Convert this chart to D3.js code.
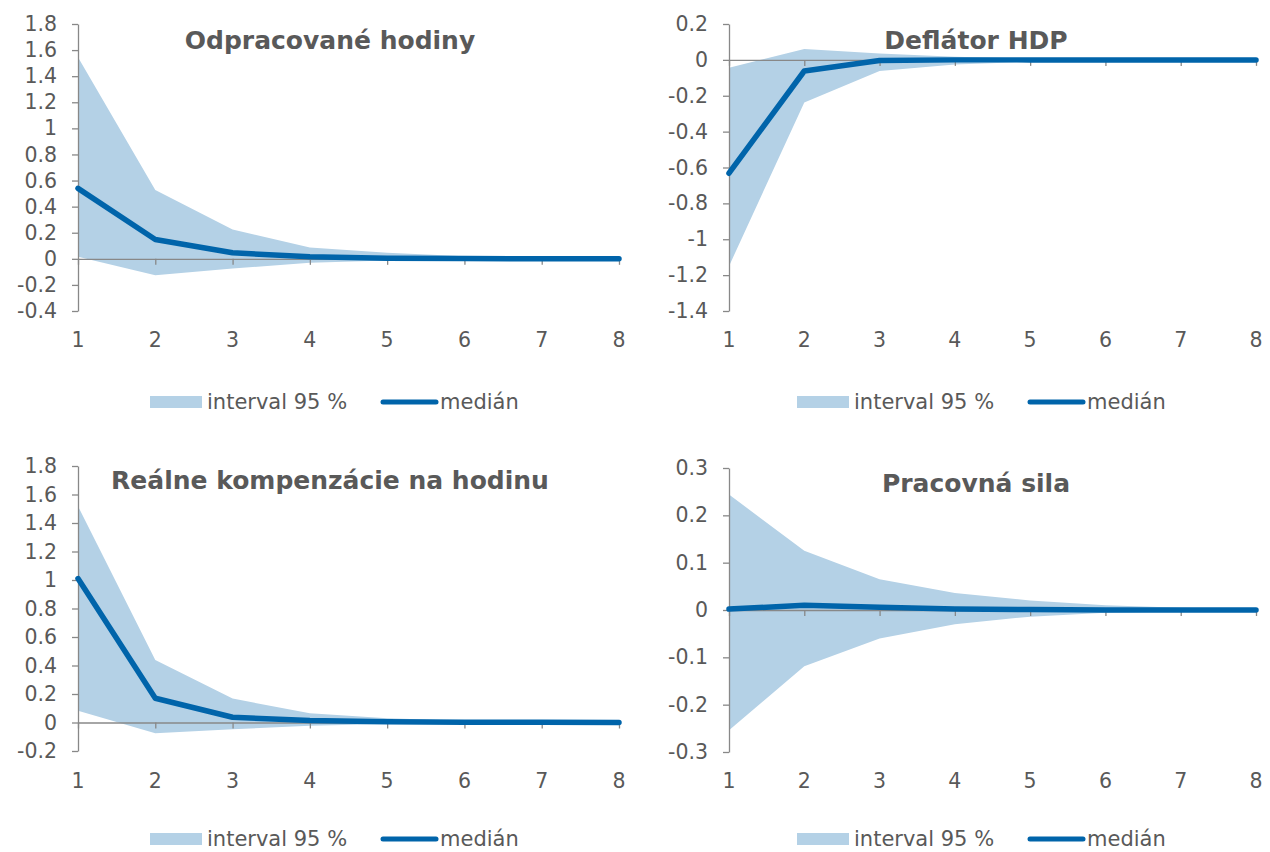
<!DOCTYPE html>
<html><head><meta charset="utf-8">
<script src="https://cdn.jsdelivr.net/npm/d3@7"></script>
<style>body{margin:0;background:#fff}svg{display:block}</style>
</head><body><svg id="c" width="1270" height="852"></svg>
<script>
const periods = [1,2,3,4,5,6,7,8];

const hoursUpper  = [1.545,0.527,0.225,0.087,0.046,0.02,0.01,0.005];
const hoursLower  = [0.015,-0.125,-0.074,-0.03,-0.012,-0.005,-0.002,0];
const hoursMedian = [0.54,0.148,0.046,0.015,0.005,0.002,0.001,0];

const deflUpper  = [-0.044,0.061,0.035,0.017,0.008,0.003,0.001,0];
const deflLower  = [-1.15,-0.237,-0.062,-0.026,-0.01,-0.004,-0.001,0];
const deflMedian = [-0.632,-0.062,-0.004,0,0,0,0,0];

const compUpper  = [1.518,0.439,0.168,0.065,0.03,0.012,0.005,0.002];
const compLower  = [0.082,-0.075,-0.047,-0.023,-0.01,-0.004,-0.002,0];
const compMedian = [1.01,0.17,0.037,0.014,0.005,0.002,0.001,0];

const laborUpper  = [0.244,0.125,0.065,0.036,0.02,0.01,0.005,0.002];
const laborLower  = [-0.254,-0.119,-0.06,-0.03,-0.014,-0.006,-0.003,0];
const laborMedian = [0.002,0.01,0.006,0.002,0.001,0,0,0];

const titles = ["Odpracované hodiny","Deflátor HDP","Reálne kompenzácie na hodinu","Pracovná sila"];
const yTicksHours = [-0.4,-0.2,0,0.2,0.4,0.6,0.8,1,1.2,1.4,1.6,1.8];
const yTicksDefl  = [-1.4,-1.2,-1,-0.8,-0.6,-0.4,-0.2,0,0.2];
const yTicksComp  = [-0.2,0,0.2,0.4,0.6,0.8,1,1.2,1.4,1.6,1.8];
const yTicksLabor = [-0.3,-0.2,-0.1,0,0.1,0.2,0.3];
const legendLabels = ["interval 95 %","medián"];

const BAND = "#b4d1e6", LINE = "#0064aa", AX = "#888888", TXT = "#595959";
const FONT = "'DejaVu Sans', Verdana, sans-serif";
const TICK_FS = "20.5px", LEG_FS = "21px", TITLE_FS = "25px";

const panels = [
  {title:titles[0], up:hoursUpper, lo:hoursLower, med:hoursMedian, ticks:yTicksHours,
   x0:78, x1:619, yTop:24, yBot:311, titleX:330, titleY:49, xLabY:347, legY:402, legX:150},
  {title:titles[1], up:deflUpper, lo:deflLower, med:deflMedian, ticks:yTicksDefl,
   x0:729, x1:1256, yTop:24, yBot:311, titleX:976, titleY:49, xLabY:347, legY:402, legX:797},
  {title:titles[2], up:compUpper, lo:compLower, med:compMedian, ticks:yTicksComp,
   x0:78, x1:619, yTop:466, yBot:751, titleX:330, titleY:489, xLabY:788, legY:839, legX:150},
  {title:titles[3], up:laborUpper, lo:laborLower, med:laborMedian, ticks:yTicksLabor,
   x0:729, x1:1256, yTop:468, yBot:752, titleX:976, titleY:492, xLabY:788, legY:839, legX:797}
];

const svg = d3.select("#c");
const fmt = d => String(+d.toFixed(1));

panels.forEach(p => {
  const g = svg.append("g");
  const x = d3.scaleLinear().domain([1,8]).range([p.x0,p.x1]);
  const y = d3.scaleLinear().domain(d3.extent(p.ticks)).range([p.yBot,p.yTop]);
  const data = periods.map((t,i)=>({t, up:p.up[i], lo:p.lo[i], med:p.med[i]}));

  g.append("path").datum(data)
    .attr("fill",BAND)
    .attr("d", d3.area().x(d=>x(d.t)).y0(d=>y(d.lo)).y1(d=>y(d.up)));

  const ya = g.append("g").attr("transform",`translate(${p.x0},0)`)
    .call(d3.axisLeft(y).tickValues(p.ticks).tickSize(6).tickSizeOuter(0).tickPadding(15)
      .tickFormat(fmt));
  ya.attr("font-size",null).attr("font-family",null);
  ya.select(".domain").attr("stroke",AX).attr("stroke-width",1.3);
  ya.selectAll(".tick line").attr("stroke",AX).attr("stroke-width",1.3);
  ya.selectAll(".tick text").attr("fill",TXT).style("font-family",FONT).style("font-size",TICK_FS);

  const xa = g.append("g").attr("transform",`translate(0,${y(0)})`)
    .call(d3.axisBottom(x).tickValues(periods).tickSize(6).tickSizeOuter(0).tickFormat(""));
  xa.select(".domain").attr("stroke",AX).attr("stroke-width",1.3);
  xa.selectAll(".tick line").attr("stroke",AX).attr("stroke-width",1.3);

  g.selectAll(".xl").data(periods).enter().append("text")
    .attr("x",d=>x(d)).attr("y",p.xLabY).attr("text-anchor","middle")
    .attr("fill",TXT).style("font-family",FONT).style("font-size",TICK_FS).text(d=>d);

  g.append("path").datum(data)
    .attr("fill","none").attr("stroke",LINE).attr("stroke-width",5.5)
    .attr("stroke-linejoin","round").attr("stroke-linecap","round")
    .attr("d", d3.line().x(d=>x(d.t)).y(d=>y(d.med)));

  g.append("text").attr("x",p.titleX).attr("y",p.titleY).attr("text-anchor","middle")
    .attr("fill",TXT).style("font-family",FONT).style("font-weight","bold").style("font-size",TITLE_FS)
    .text(p.title);

  const lg = g.append("g").attr("transform",`translate(${p.legX},${p.legY})`);
  lg.append("rect").attr("x",0).attr("y",-6).attr("width",52).attr("height",12).attr("fill",BAND);
  lg.append("text").attr("x",57).attr("y",0).attr("dy","0.35em").attr("fill",TXT)
    .style("font-family",FONT).style("font-size",LEG_FS).text(legendLabels[0]);
  lg.append("line").attr("x1",233).attr("x2",286).attr("y1",0).attr("y2",0)
    .attr("stroke",LINE).attr("stroke-width",5).attr("stroke-linecap","round");
  lg.append("text").attr("x",290).attr("y",0).attr("dy","0.35em").attr("fill",TXT)
    .style("font-family",FONT).style("font-size",LEG_FS).text(legendLabels[1]);
});
</script></body></html>
